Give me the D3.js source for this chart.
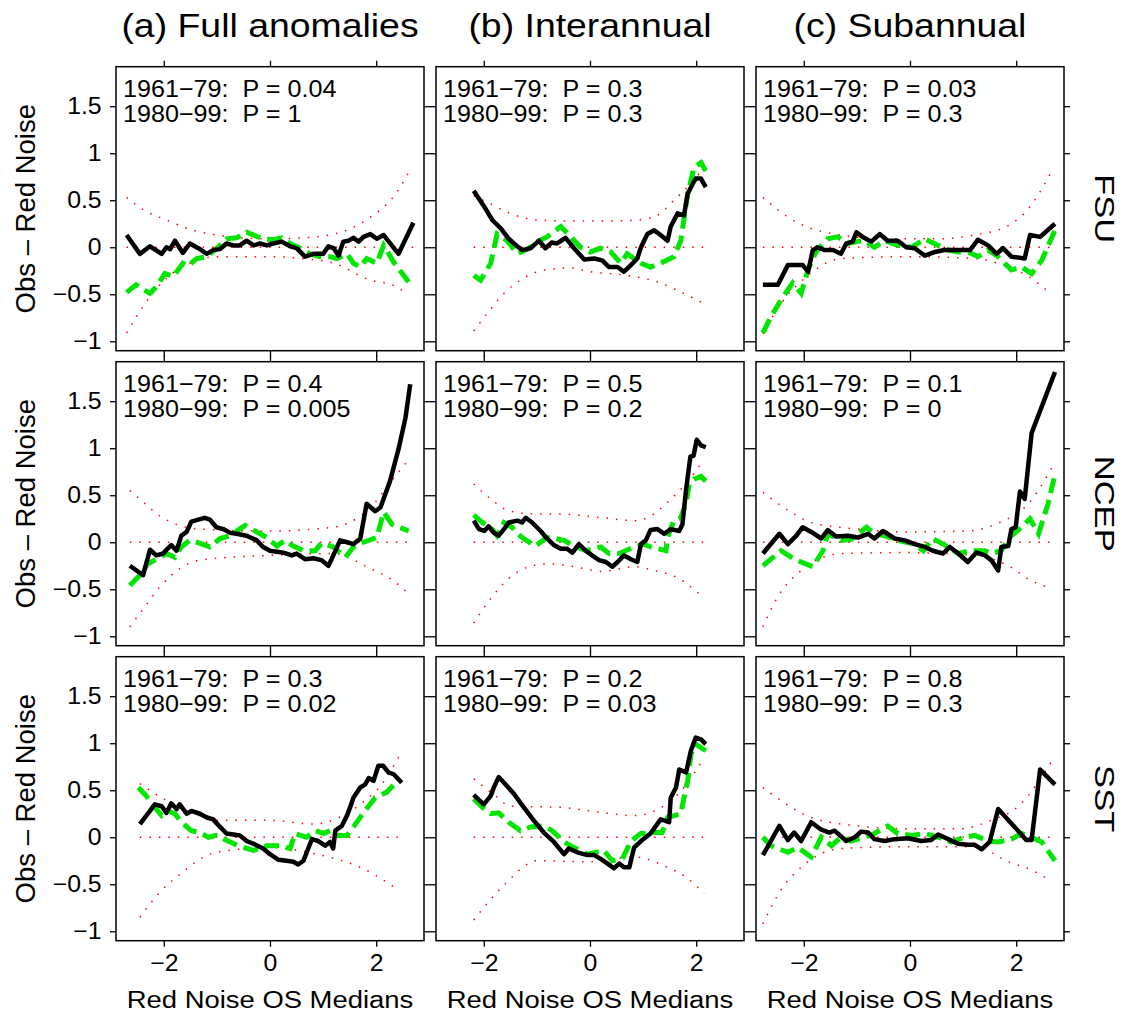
<!DOCTYPE html>
<html>
<head>
<meta charset="utf-8">
<script src="https://cdn.jsdelivr.net/npm/d3@7"></script>
<style>
  body { margin: 0; background: #fff; }
  svg { display: block; font-family: "Liberation Sans", Arial, Helvetica, sans-serif; }
  .ptxt { white-space: pre; }
</style>
</head>
<body>
<div id="chart"></div>
<script>
// column / row labels
const colTitles = ["(a) Full anomalies", "(b) Interannual", "(c) Subannual"];
const rowNames = ["FSU", "NCEP", "SST"];
const yTicks = [-1, -0.5, 0, 0.5, 1, 1.5];
const xTicks = [-2, 0, 2];

// P values, row by row: [1961-79, 1980-99]
const pEarly = [["0.04", "0.3", "0.03"], ["0.4", "0.5", "0.1"], ["0.3", "0.2", "0.8"]];
const pLate  = [["1", "0.3", "0.3"], ["0.005", "0.2", "0"], ["0.02", "0.03", "0.3"]];

// ---- FSU ----
const fsuFullSolid = [[-2.70,0.13],[-2.45,-0.07],[-2.26,0.01],[-2.04,-0.07],[-1.95,0.0],[-1.88,-0.02],[-1.79,0.07],[-1.64,-0.06],[-1.51,0.04],[-1.35,-0.01],[-1.19,-0.07],[-1.07,-0.03],[-0.94,-0.02],[-0.82,0.04],[-0.69,0.02],[-0.57,0.02],[-0.44,0.07],[-0.31,0.02],[-0.19,0.04],[-0.06,0.02],[0.06,0.04],[0.22,0.06],[0.38,0.01],[0.50,-0.01],[0.66,-0.10],[0.82,-0.07],[1.00,-0.07],[1.10,0.01],[1.20,-0.01],[1.29,-0.09],[1.38,0.06],[1.48,0.07],[1.57,0.10],[1.67,0.06],[1.76,0.11],[1.89,0.14],[2.01,0.09],[2.14,0.13],[2.42,-0.07],[2.70,0.26]];
const fsuFullDashed = [[-2.70,-0.48],[-2.52,-0.40],[-2.26,-0.49],[-2.14,-0.42],[-1.98,-0.28],[-1.82,-0.31],[-1.64,-0.17],[-1.55,-0.20],[-1.38,-0.12],[-1.19,-0.10],[-1.00,-0.01],[-0.82,0.09],[-0.63,0.10],[-0.44,0.16],[-0.31,0.13],[-0.13,0.09],[0.06,0.08],[0.22,0.10],[0.38,0.04],[0.57,-0.01],[0.75,-0.07],[0.94,-0.10],[1.13,-0.10],[1.26,-0.12],[1.45,-0.07],[1.57,-0.17],[1.70,-0.21],[1.82,-0.12],[2.01,-0.17],[2.14,0.02],[2.33,-0.16],[2.61,-0.37]];
const fsuFullUpper = [[-2.70,0.53],[-2.33,0.38],[-1.95,0.29],[-1.50,0.19],[-1.00,0.13],[0,0.09],[0.60,0.10],[1.20,0.14],[1.89,0.32],[2.30,0.52],[2.67,0.85]];
const fsuFullLower = [[-2.70,-0.91],[-2.33,-0.58],[-1.95,-0.33],[-1.50,-0.17],[-1.00,-0.10],[0,-0.10],[0.60,-0.12],[1.20,-0.17],[1.89,-0.35],[2.30,-0.40],[2.61,-0.51]];

const fsuInterSolid = [[-2.19,0.60],[-2.00,0.44],[-1.84,0.29],[-1.68,0.20],[-1.53,0.09],[-1.37,0.01],[-1.28,-0.03],[-1.12,-0.01],[-0.96,0.07],[-0.84,-0.01],[-0.72,0.05],[-0.62,0.04],[-0.46,0.10],[-0.30,-0.01],[-0.11,-0.13],[0.08,-0.12],[0.23,-0.14],[0.36,-0.21],[0.52,-0.21],[0.64,-0.26],[0.77,-0.19],[0.89,-0.12],[0.96,0.00],[1.08,0.14],[1.21,0.18],[1.33,0.13],[1.46,0.07],[1.52,0.22],[1.65,0.36],[1.77,0.34],[1.84,0.57],[1.93,0.67],[1.99,0.73],[2.09,0.73],[2.18,0.64]];
const fsuInterDashed = [[-2.19,-0.30],[-2.06,-0.35],[-1.87,-0.17],[-1.75,0.14],[-1.56,0.07],[-1.37,-0.07],[-1.18,-0.02],[-0.99,0.06],[-0.81,0.11],[-0.55,0.22],[-0.36,0.11],[-0.18,0.00],[0.01,-0.05],[0.20,-0.01],[0.39,-0.05],[0.58,-0.17],[0.70,-0.07],[0.96,-0.17],[1.14,-0.21],[1.33,-0.17],[1.58,-0.10],[1.71,0.07],[1.84,0.57],[1.96,0.85],[2.09,0.90],[2.18,0.81]];
const fsuInterUpper = [[-2.19,0.55],[-1.87,0.46],[-1.50,0.36],[-1.00,0.29],[-0.40,0.28],[0.30,0.28],[0.90,0.29],[1.27,0.34],[1.58,0.50],[1.90,0.68],[2.15,0.85]];
const fsuInterLower = [[-2.19,-0.89],[-1.93,-0.70],[-1.62,-0.49],[-1.31,-0.35],[-0.99,-0.26],[-0.67,-0.23],[-0.36,-0.22],[0.01,-0.26],[0.70,-0.30],[1.33,-0.38],[1.65,-0.46],[2.15,-0.60]];

const fsuSubSolid = [[-2.77,-0.40],[-2.49,-0.40],[-2.30,-0.19],[-2.02,-0.19],[-1.92,-0.26],[-1.83,-0.03],[-1.74,0.00],[-1.61,-0.03],[-1.45,-0.03],[-1.30,-0.07],[-1.20,0.04],[-1.08,0.06],[-1.01,0.16],[-0.89,0.11],[-0.73,0.06],[-0.57,0.14],[-0.42,0.07],[-0.23,0.07],[-0.07,0.00],[0.09,-0.01],[0.28,-0.09],[0.47,-0.05],[0.65,-0.03],[0.91,-0.03],[1.13,-0.03],[1.28,0.08],[1.47,0.02],[1.63,-0.07],[1.75,-0.01],[1.91,-0.10],[2.16,-0.12],[2.26,0.13],[2.45,0.11],[2.73,0.25]];
const fsuSubDashed = [[-2.77,-0.91],[-2.62,-0.74],[-2.43,-0.56],[-2.21,-0.38],[-2.05,-0.49],[-1.92,-0.24],[-1.77,-0.05],[-1.55,0.09],[-1.36,0.11],[-1.17,0.04],[-1.00,0.06],[-0.86,0.07],[-0.67,0.00],[-0.48,0.07],[-0.23,0.02],[0.03,0.00],[0.28,0.09],[0.53,0.02],[0.72,-0.03],[0.91,-0.05],[1.10,-0.05],[1.28,-0.10],[1.47,-0.03],[1.66,-0.10],[1.91,-0.24],[2.10,-0.21],[2.29,-0.28],[2.48,-0.14],[2.73,0.18]];
const fsuSubUpper = [[-2.77,0.53],[-2.24,0.30],[-1.86,0.20],[-1.40,0.14],[-0.42,0.09],[0.59,0.09],[1.22,0.13],[1.85,0.23],[2.23,0.41],[2.67,0.81]];
const fsuSubLower = [[-2.77,-0.92],[-2.43,-0.60],[-1.92,-0.30],[-1.30,-0.12],[-0.04,-0.10],[1.22,-0.12],[1.85,-0.21],[2.23,-0.31],[2.60,-0.47]];

// ---- NCEP ----
const ncepFullSolid = [[-2.64,-0.25],[-2.39,-0.35],[-2.26,-0.08],[-2.14,-0.14],[-2.01,-0.12],[-1.95,-0.08],[-1.86,-0.03],[-1.76,-0.09],[-1.67,0.07],[-1.57,0.11],[-1.48,0.22],[-1.35,0.24],[-1.23,0.26],[-1.13,0.24],[-1.01,0.16],[-0.88,0.14],[-0.75,0.10],[-0.63,0.09],[-0.44,0.07],[-0.25,0.02],[-0.13,-0.05],[0.00,-0.09],[0.13,-0.10],[0.25,-0.11],[0.41,-0.14],[0.50,-0.12],[0.66,-0.18],[0.82,-0.17],[0.97,-0.19],[1.10,-0.25],[1.16,-0.18],[1.32,0.02],[1.45,0.00],[1.57,-0.02],[1.70,0.04],[1.82,0.41],[1.98,0.33],[2.08,0.37],[2.26,0.65],[2.42,0.99],[2.55,1.32],[2.64,1.68]];
const ncepFullDashed = [[-2.64,-0.46],[-2.45,-0.35],[-2.30,-0.23],[-2.14,-0.18],[-1.95,-0.12],[-1.79,-0.16],[-1.67,-0.05],[-1.51,0.02],[-1.38,0.00],[-1.13,-0.05],[-0.94,0.04],[-0.75,0.07],[-0.47,0.18],[-0.25,0.11],[-0.06,0.05],[0.13,-0.04],[0.28,0.02],[0.44,-0.04],[0.63,-0.09],[0.85,-0.09],[0.97,-0.01],[1.19,-0.05],[1.42,-0.16],[1.57,-0.05],[1.76,0.00],[2.01,0.05],[2.14,0.32],[2.30,0.19],[2.61,0.12]];
const ncepFullUpper = [[-2.64,0.55],[-2.35,0.41],[-2.08,0.28],[-1.32,0.14],[0,0.12],[1.19,0.16],[1.89,0.37],[2.30,0.66],[2.64,0.90]];
const ncepFullLower = [[-2.64,-0.90],[-2.35,-0.68],[-2.08,-0.48],[-1.32,-0.19],[0,-0.14],[1.19,-0.12],[1.89,-0.28],[2.30,-0.40],[2.61,-0.55]];

const ncepInterSolid = [[-2.19,0.23],[-2.09,0.14],[-1.99,0.12],[-1.91,0.17],[-1.81,0.10],[-1.72,0.07],[-1.62,0.14],[-1.53,0.21],[-1.37,0.23],[-1.28,0.21],[-1.21,0.26],[-1.09,0.21],[-0.93,0.12],[-0.81,0.04],[-0.68,-0.03],[-0.55,-0.07],[-0.43,-0.07],[-0.33,-0.11],[-0.21,-0.02],[-0.08,-0.09],[0.04,-0.14],[0.17,-0.19],[0.30,-0.21],[0.42,-0.26],[0.52,-0.21],[0.64,-0.14],[0.77,-0.18],[0.89,-0.21],[0.96,-0.02],[1.05,0.02],[1.14,0.13],[1.27,0.14],[1.40,0.09],[1.52,0.14],[1.68,0.12],[1.74,0.19],[1.81,0.56],[1.89,0.91],[1.95,0.92],[2.01,1.09],[2.09,1.03],[2.18,1.01]];
const ncepInterDashed = [[-2.19,0.29],[-2.03,0.21],[-1.87,0.16],[-1.75,0.07],[-1.62,0.21],[-1.47,0.16],[-1.37,0.09],[-1.25,0.04],[-1.03,-0.04],[-0.81,0.05],[-0.65,0.04],[-0.49,0.02],[-0.30,-0.04],[-0.08,-0.09],[0.20,-0.05],[0.36,-0.12],[0.55,-0.12],[0.83,-0.05],[1.02,-0.02],[1.14,-0.05],[1.43,-0.09],[1.46,0.05],[1.58,0.23],[1.71,0.26],[1.81,0.42],[1.87,0.62],[1.96,0.67],[2.09,0.70],[2.18,0.65]];
const ncepInterUpper = [[-2.19,0.62],[-1.87,0.46],[-1.50,0.33],[-1.00,0.30],[-0.58,0.30],[0.23,0.26],[0.86,0.23],[1.20,0.30],[1.43,0.41],[1.80,0.62],[2.12,0.86]];
const ncepInterLower = [[-2.19,-0.86],[-1.87,-0.60],[-1.50,-0.37],[-1.15,-0.26],[-0.81,-0.23],[-0.30,-0.26],[0.23,-0.31],[0.83,-0.26],[1.20,-0.30],[1.62,-0.37],[2.12,-0.58]];

const ncepSubSolid = [[-2.77,-0.12],[-2.46,0.09],[-2.30,-0.02],[-2.14,0.07],[-2.02,0.16],[-1.86,0.11],[-1.67,0.04],[-1.55,0.13],[-1.39,0.06],[-1.17,0.07],[-0.98,0.05],[-0.79,0.09],[-0.67,0.04],[-0.51,0.12],[-0.29,0.04],[-0.10,0.02],[0.09,-0.02],[0.28,-0.05],[0.43,-0.09],[0.62,-0.12],[0.75,-0.05],[0.91,-0.12],[1.09,-0.21],[1.25,-0.11],[1.41,-0.14],[1.53,-0.19],[1.66,-0.30],[1.72,-0.05],[1.85,-0.04],[1.91,0.14],[1.99,0.16],[2.07,0.54],[2.16,0.46],[2.29,1.16],[2.73,1.81]];
const ncepSubDashed = [[-2.77,-0.25],[-2.43,-0.09],[-2.18,-0.18],[-1.83,-0.26],[-1.64,-0.09],[-1.55,0.09],[-1.30,0.02],[-1.11,0.03],[-0.82,0.16],[-0.67,0.09],[-0.48,0.07],[-0.23,0.02],[0.09,-0.02],[0.25,-0.09],[0.43,0.04],[0.72,-0.05],[0.91,-0.12],[1.13,-0.09],[1.41,-0.09],[1.53,-0.12],[1.72,-0.09],[1.85,0.04],[2.10,0.16],[2.26,0.25],[2.42,0.09],[2.60,0.41],[2.73,0.72]];
const ncepSubUpper = [[-2.77,0.53],[-2.24,0.32],[-1.86,0.21],[-0.98,0.14],[-0.04,0.11],[1.09,0.12],[1.69,0.21],[2.23,0.41],[2.67,0.79]];
const ncepSubLower = [[-2.77,-0.90],[-2.49,-0.58],[-2.05,-0.30],[-1.30,-0.12],[-0.04,-0.11],[1.22,-0.14],[1.85,-0.25],[2.29,-0.41],[2.60,-0.48]];

// ---- SST ----
const sstFullSolid = [[-2.45,0.14],[-2.30,0.25],[-2.17,0.35],[-2.04,0.33],[-1.95,0.26],[-1.86,0.36],[-1.76,0.30],[-1.70,0.35],[-1.57,0.25],[-1.48,0.28],[-1.32,0.25],[-1.19,0.21],[-1.07,0.19],[-0.94,0.11],[-0.82,0.04],[-0.69,0.03],[-0.57,0.02],[-0.44,-0.04],[-0.31,-0.07],[-0.13,-0.12],[0.00,-0.18],[0.16,-0.24],[0.31,-0.25],[0.44,-0.26],[0.53,-0.29],[0.63,-0.25],[0.72,-0.12],[0.79,-0.02],[0.91,-0.04],[1.04,-0.09],[1.13,-0.05],[1.19,-0.12],[1.23,0.07],[1.35,0.12],[1.45,0.23],[1.51,0.32],[1.57,0.42],[1.70,0.53],[1.79,0.56],[1.86,0.63],[1.95,0.60],[2.04,0.76],[2.13,0.76],[2.23,0.69],[2.33,0.67],[2.48,0.58]];
const sstFullDashed = [[-2.48,0.53],[-2.33,0.44],[-2.17,0.32],[-2.04,0.23],[-1.92,0.28],[-1.79,0.25],[-1.67,0.16],[-1.48,0.07],[-1.32,0.05],[-1.16,0.00],[-1.01,0.02],[-0.79,-0.04],[-0.60,-0.09],[-0.31,-0.14],[-0.06,-0.09],[0.19,-0.09],[0.38,-0.12],[0.47,0.04],[0.69,0.00],[0.85,0.07],[1.01,0.04],[1.13,0.07],[1.26,0.02],[1.45,0.02],[1.57,0.11],[1.76,0.26],[1.98,0.42],[2.20,0.48],[2.45,0.63]];
const sstFullUpper = [[-2.45,0.57],[-1.95,0.39],[-1.50,0.27],[-1.01,0.18],[0,0.18],[0.82,0.14],[1.30,0.21],[1.70,0.35],[2.10,0.56],[2.45,0.88]];
const sstFullLower = [[-2.45,-0.85],[-2.10,-0.60],[-1.73,-0.41],[-1.01,-0.16],[0,-0.11],[0.88,-0.18],[1.30,-0.24],[1.70,-0.32],[2.39,-0.55]];

const sstInterSolid = [[-2.19,0.45],[-2.00,0.35],[-1.87,0.44],[-1.81,0.53],[-1.72,0.64],[-1.62,0.58],[-1.43,0.46],[-1.25,0.32],[-1.06,0.18],[-0.87,0.05],[-0.68,-0.05],[-0.49,-0.18],[-0.40,-0.12],[-0.24,-0.16],[-0.05,-0.19],[0.08,-0.19],[0.20,-0.23],[0.33,-0.28],[0.45,-0.33],[0.55,-0.28],[0.64,-0.32],[0.74,-0.32],[0.83,-0.11],[0.96,-0.04],[1.14,0.04],[1.33,0.19],[1.49,0.16],[1.52,0.42],[1.62,0.53],[1.68,0.72],[1.81,0.69],[1.90,0.92],[1.99,1.06],[2.09,1.04],[2.18,0.99]];
const sstInterDashed = [[-2.19,0.41],[-2.03,0.32],[-1.87,0.25],[-1.72,0.26],[-1.53,0.16],[-1.31,0.07],[-1.12,0.11],[-0.87,0.12],[-0.71,0.07],[-0.49,-0.05],[-0.30,-0.11],[-0.05,-0.18],[0.26,-0.14],[0.42,-0.25],[0.61,-0.23],[0.77,-0.04],[0.96,0.04],[1.21,0.05],[1.36,0.05],[1.46,0.21],[1.71,0.25],[1.77,0.42],[1.84,0.60],[1.90,0.88],[1.99,0.99],[2.18,0.92]];
const sstInterUpper = [[-2.19,0.62],[-1.80,0.45],[-1.50,0.33],[-0.58,0.32],[0.01,0.28],[0.83,0.23],[1.43,0.35],[1.80,0.55],[2.15,0.85]];
const sstInterLower = [[-2.19,-0.88],[-1.62,-0.51],[-0.99,-0.25],[0.01,-0.26],[0.83,-0.21],[1.46,-0.32],[1.80,-0.42],[2.15,-0.60]];

const sstSubSolid = [[-2.77,-0.19],[-2.46,0.12],[-2.30,-0.03],[-2.18,0.05],[-2.05,-0.04],[-1.86,0.16],[-1.67,0.08],[-1.52,0.05],[-1.42,0.07],[-1.20,-0.04],[-1.04,0.00],[-0.92,0.06],[-0.79,0.05],[-0.67,-0.02],[-0.48,-0.04],[-0.29,-0.02],[-0.04,-0.01],[0.21,-0.04],[0.40,-0.03],[0.53,0.03],[0.72,-0.02],[0.91,-0.07],[1.09,-0.08],[1.22,-0.08],[1.35,-0.13],[1.50,-0.05],[1.66,0.30],[1.79,0.22],[1.97,0.11],[2.19,-0.03],[2.29,-0.03],[2.45,0.72],[2.73,0.56]];
const sstSubDashed = [[-2.77,0.00],[-2.62,-0.09],[-2.30,-0.16],[-2.11,-0.11],[-1.86,-0.21],[-1.67,0.00],[-1.48,-0.09],[-1.30,0.00],[-1.11,-0.04],[-0.86,0.00],[-0.67,0.04],[-0.42,0.12],[-0.23,0.04],[0.03,0.02],[0.28,0.04],[0.53,0.00],[0.78,-0.05],[1.03,0.00],[1.22,0.02],[1.47,-0.04],[1.66,-0.05],[1.91,-0.02],[2.10,0.04],[2.29,0.00],[2.48,-0.05],[2.73,-0.25]];
const sstSubUpper = [[-2.77,0.53],[-2.43,0.39],[-1.86,0.21],[-0.98,0.12],[-0.04,0.09],[0.91,0.09],[1.53,0.18],[2.04,0.33],[2.67,0.81]];
const sstSubLower = [[-2.77,-0.92],[-2.43,-0.56],[-2.05,-0.32],[-1.30,-0.12],[-0.04,-0.10],[1.22,-0.10],[1.85,-0.26],[2.29,-0.35],[2.64,-0.46]];

const panels = [
  [fsuFullSolid, fsuFullDashed, fsuFullUpper, fsuFullLower],
  [fsuInterSolid, fsuInterDashed, fsuInterUpper, fsuInterLower],
  [fsuSubSolid, fsuSubDashed, fsuSubUpper, fsuSubLower],
  [ncepFullSolid, ncepFullDashed, ncepFullUpper, ncepFullLower],
  [ncepInterSolid, ncepInterDashed, ncepInterUpper, ncepInterLower],
  [ncepSubSolid, ncepSubDashed, ncepSubUpper, ncepSubLower],
  [sstFullSolid, sstFullDashed, sstFullUpper, sstFullLower],
  [sstInterSolid, sstInterDashed, sstInterUpper, sstInterLower],
  [sstSubSolid, sstSubDashed, sstSubUpper, sstSubLower]
].map(([solid, dashed, upper, lower]) => ({ solid, dashed, upper, lower }));

// layout
const W = 1130, H = 1017;
const colLeft = [116, 436, 756];
const rowTop = [66.7, 361.7, 656.7];
const pw = 308, ph = 284;

const svg = d3.select("#chart").append("svg").attr("width", W).attr("height", H);

const fmt = d => (d < 0 ? "\u2212" : "") + Math.abs(d);

// text in the original is a bit wider than Liberation Sans, stretch it horizontally
colTitles.forEach((t, c) => {
  svg.append("text").attr("transform", `translate(${colLeft[c] + pw / 2},37) scale(1.1,1)`)
    .attr("text-anchor", "middle").attr("font-size", 34).text(t);
});

rowNames.forEach((t, r) => {
  const cy = rowTop[r] + ph / 2;
  svg.append("text").attr("transform", `translate(1095,${cy}) rotate(90) scale(1.28,1)`)
    .attr("text-anchor", "middle").attr("font-size", 27).text(t);
  svg.append("text").attr("transform", `translate(35,${cy}) rotate(-90)`)
    .attr("text-anchor", "middle").attr("font-size", 27.5).text("Obs \u2013 Red Noise");
});

panels.forEach((p, i) => {
  const r = Math.floor(i / 3), c = i % 3;
  const g = svg.append("g").attr("transform", `translate(${colLeft[c]},${rowTop[r]})`);
  const x = d3.scaleLinear().domain([-2.9, 2.9]).range([0, pw]);
  const y = d3.scaleLinear().domain([-1.1, 1.92]).range([ph, 0]);

  const line = d3.line().x(d => x(d[0])).y(d => y(d[1]));
  const smooth = d3.line().x(d => x(d[0])).y(d => y(d[1])).curve(d3.curveMonotoneX);

  // red dotted: bands and zero line
  const x0 = p.solid[0][0], x1 = p.solid[p.solid.length - 1][0];
  [p.upper, p.lower].forEach(b => {
    g.append("path").attr("d", smooth(b)).attr("fill", "none")
      .attr("stroke", "#ff0000").attr("stroke-width", 1.5).attr("stroke-dasharray", "1.5 8");
  });
  g.append("path").attr("d", line([[x0, 0], [x1, 0]])).attr("fill", "none")
    .attr("stroke", "#ff0000").attr("stroke-width", 1.5).attr("stroke-dasharray", "1.5 8");

  g.append("path").attr("d", line(p.dashed)).attr("fill", "none")
    .attr("stroke", "#00e600").attr("stroke-width", 5).attr("stroke-dasharray", "15 7");
  g.append("path").attr("d", line(p.solid)).attr("fill", "none")
    .attr("stroke", "#000").attr("stroke-width", 4.5).attr("stroke-linejoin", "round");

  // axes with outside ticks on all four sides
  const styleAxis = sel => {
    sel.selectAll(".domain").remove();
    sel.selectAll(".tick line").attr("stroke", "#000").attr("stroke-width", 1.3);
    sel.selectAll(".tick text").attr("font-size", 23).attr("fill", "#000")
      .attr("font-family", "Liberation Sans, Arial, sans-serif")
      .attr("transform", "scale(1.08,1)");
  };
  g.append("g").call(d3.axisTop(x).tickValues(xTicks).tickSize(6).tickFormat("")).call(styleAxis);
  g.append("g").attr("transform", `translate(0,${ph})`)
    .call(d3.axisBottom(x).tickValues(xTicks).tickSize(6).tickPadding(8)
      .tickFormat(r === 2 ? fmt : "")).call(styleAxis);
  g.append("g")
    .call(d3.axisLeft(y).tickValues(yTicks).tickSize(6).tickPadding(7.3)
      .tickFormat(c === 0 ? fmt : "")).call(styleAxis);
  g.append("g").attr("transform", `translate(${pw},0)`)
    .call(d3.axisRight(y).tickValues(yTicks).tickSize(6).tickFormat("")).call(styleAxis);

  g.append("rect").attr("width", pw).attr("height", ph)
    .attr("fill", "none").attr("stroke", "#000").attr("stroke-width", 1.5);

  g.append("text").attr("class", "ptxt").attr("transform", "translate(7,30) scale(1.07,1)")
    .attr("font-size", 23.5).text(`1961\u221279:  P = ${pEarly[r][c]}`);
  g.append("text").attr("class", "ptxt").attr("transform", "translate(7,55) scale(1.07,1)")
    .attr("font-size", 23.5).text(`1980\u221299:  P = ${pLate[r][c]}`);

  if (r === 2) {
    g.append("text").attr("transform", `translate(${pw / 2},${ph + 67}) scale(1.12,1)`)
      .attr("text-anchor", "middle").attr("font-size", 24.5).text("Red Noise OS Medians");
  }
});
</script>
</body>
</html>
